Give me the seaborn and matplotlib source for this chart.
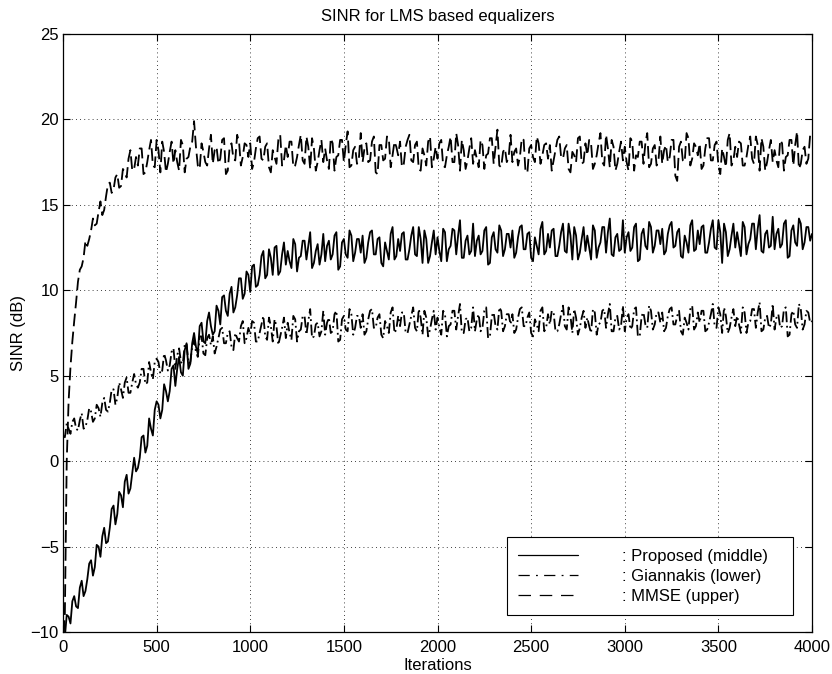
import numpy as np
import pandas as pd
import matplotlib
matplotlib.use("Agg")
import matplotlib.pyplot as plt
from matplotlib.lines import Line2D
import seaborn as sns

# ---------------- data ----------------
# samples every 20 iterations ...
iters = list(range(0, 4001, 20))
# ... and the samples in between (every 20 iterations, offset by 10)
iters_mid = list(range(10, 4000, 20))

proposed = [
    -10.0, -9.0, -9.5, -7.9, -8.6, -7.0, -7.6, -6.0, -6.7, -4.9,
    -5.6, -3.9, -4.7, -2.8, -3.7, -1.8, -2.7, -0.8, -1.6, 0.2,
    -0.4, 1.4, 0.5, 2.5, 1.5, 3.5, 2.5, 4.5, 3.5, 5.4,
    4.4, 6.1, 5.0, 6.9, 5.7, 7.5, 6.3, 8.1, 6.9, 8.7,
    7.4, 9.1, 8.0, 9.7, 8.5, 10.2, 9.0, 10.7, 9.5, 11.1,
    9.9, 11.5, 10.3, 12.0, 10.7, 12.4, 10.9, 12.6, 11.1, 12.8,
    12.3, 11.3, 12.7, 11.9, 12.9, 11.8, 13.4, 11.6, 12.7, 12.1,
    11.7, 12.9, 12.1, 13.4, 11.4, 13.0, 11.9, 13.2, 12.2, 13.0,
    13.2, 11.9, 13.4, 12.1, 13.0, 11.6, 12.8, 11.8, 13.7, 12.0,
    12.3, 13.4, 11.8, 13.2, 12.1, 13.7, 11.6, 13.0, 12.0, 13.5,
    13.1, 11.7, 13.4, 12.4, 13.6, 12.1, 14.1, 11.9, 13.2, 12.3,
    12.0, 13.2, 12.3, 13.7, 11.6, 13.4, 12.2, 13.5, 12.4, 13.3,
    13.5, 12.2, 13.7, 12.4, 13.3, 11.9, 13.1, 12.1, 14.0, 12.3,
    12.5, 13.6, 12.0, 13.4, 12.3, 13.9, 11.8, 13.2, 12.2, 13.7,
    13.2, 11.8, 13.5, 12.5, 13.7, 12.2, 14.2, 12.0, 13.3, 12.4,
    12.2, 13.4, 12.5, 13.9, 11.8, 13.6, 12.4, 13.7, 12.6, 13.5,
    13.6, 12.3, 13.8, 12.5, 13.4, 12.0, 13.2, 12.2, 14.1, 12.4,
    12.7, 13.8, 12.2, 13.6, 12.5, 14.1, 11.6, 13.4, 12.4, 13.9,
    13.4, 12.0, 13.7, 12.7, 13.9, 12.4, 14.4, 12.2, 13.5, 12.6,
    12.4, 13.6, 12.7, 14.1, 12.0, 13.8, 12.6, 13.9, 12.8, 13.7,
    13.3,
]
proposed_mid = [
    -10.3, -9.1, -8.2, -8.5, -7.4, -7.9, -6.9, -5.8, -6.2, -5.0,
    -4.4, -4.8, -3.9, -2.6, -3.1, -2.0, -1.2, -1.9, -0.7, -0.6,
    0.2, 1.5, 0.9, 1.9, 3.0, 3.3, 3.0, 4.1, 4.1, 5.6,
    5.4, 5.2, 6.5, 5.4, 6.9, 6.7, 7.9, 7.0, 8.2, 7.9,
    7.6, 8.8, 9.6, 8.8, 9.8, 8.7, 9.7, 10.7, 9.8, 10.9,
    11.4, 10.2, 10.9, 12.3, 10.9, 11.9, 12.5, 10.9, 12.1, 11.5,
    11.7, 13.0, 11.1, 12.0, 12.9, 12.6, 11.3, 12.3, 11.5, 13.3,
    12.6, 11.8, 13.2, 11.2, 12.8, 12.1, 13.5, 11.7, 13.0, 12.2,
    11.6, 12.8, 13.5, 12.1, 13.1, 11.4, 12.3, 13.3, 11.8, 13.0,
    13.3, 11.8, 12.4, 13.7, 12.0, 13.0, 13.5, 11.6, 12.8, 12.1,
    12.3, 13.6, 11.7, 12.6, 13.5, 13.2, 11.9, 12.9, 12.1, 13.9,
    12.9, 12.1, 13.5, 11.5, 13.1, 12.4, 13.8, 12.0, 13.3, 12.5,
    11.9, 13.1, 13.8, 12.4, 13.4, 11.7, 12.6, 13.6, 12.1, 13.3,
    13.5, 12.0, 12.6, 13.9, 12.2, 13.2, 13.7, 11.8, 13.0, 12.3,
    12.5, 13.8, 11.9, 12.8, 13.7, 13.4, 12.1, 13.1, 12.3, 14.1,
    13.1, 12.3, 13.7, 11.7, 13.3, 12.6, 14.0, 12.2, 13.5, 12.7,
    12.1, 13.3, 14.0, 12.6, 13.6, 11.9, 12.8, 13.8, 12.3, 13.5,
    13.7, 12.2, 12.8, 14.1, 12.4, 13.4, 13.9, 12.0, 13.2, 12.5,
    12.7, 14.0, 12.1, 13.0, 13.9, 13.6, 12.3, 13.3, 12.5, 14.3,
    13.3, 12.5, 13.9, 11.9, 13.5, 12.8, 14.2, 12.4, 13.7, 12.9,
]

giannakis = [
    1.5, 2.2, 1.6, 2.5, 1.8, 2.8, 2.0, 3.1, 2.3, 3.3,
    2.6, 3.7, 2.9, 4.2, 3.3, 4.6, 3.7, 4.9, 4.0, 5.1,
    4.3, 5.4, 4.5, 5.8, 4.8, 6.0, 5.1, 6.3, 5.3, 6.4,
    5.4, 6.6, 5.7, 6.9, 5.8, 7.1, 6.1, 7.3, 6.2, 7.4,
    7.3, 6.7, 7.7, 6.9, 7.5, 6.7, 7.5, 7.0, 8.2, 7.2,
    7.4, 8.1, 7.0, 8.0, 7.3, 8.4, 7.0, 7.9, 7.3, 8.4,
    8.1, 7.1, 8.3, 7.6, 8.5, 7.4, 8.9, 7.3, 8.1, 7.6,
    7.4, 8.4, 7.6, 8.8, 7.1, 8.5, 7.6, 8.6, 7.8, 8.5,
    8.6, 7.6, 8.8, 7.8, 8.4, 7.4, 8.2, 7.5, 9.0, 7.7,
    7.9, 8.7, 7.5, 8.5, 7.8, 8.9, 7.4, 8.4, 7.7, 8.8,
    8.4, 7.4, 8.6, 7.9, 8.8, 7.7, 9.2, 7.5, 8.4, 7.8,
    7.6, 8.6, 7.8, 9.0, 7.3, 8.7, 7.7, 8.8, 7.9, 8.6,
    8.6, 7.7, 8.9, 7.9, 8.4, 7.5, 8.3, 7.6, 9.0, 7.8,
    8.0, 8.7, 7.6, 8.6, 7.9, 9.0, 7.5, 8.4, 7.8, 8.8,
    8.4, 7.5, 8.7, 8.0, 8.8, 7.8, 9.2, 7.6, 8.5, 7.9,
    7.6, 8.6, 7.9, 9.0, 7.3, 8.7, 7.8, 8.8, 8.0, 8.7,
    8.7, 7.8, 8.9, 8.0, 8.5, 7.6, 8.4, 7.7, 9.1, 7.9,
    8.1, 8.8, 7.7, 8.6, 7.9, 9.0, 7.5, 8.5, 7.8, 8.9,
    8.5, 7.5, 8.7, 8.1, 8.9, 7.8, 9.3, 7.7, 8.5, 8.0,
    7.7, 8.6, 7.9, 9.0, 7.4, 8.8, 7.8, 8.9, 8.0, 8.7,
    8.2,
]
giannakis_mid = [
    1.4, 1.9, 2.3, 1.9, 2.4, 1.9, 2.4, 2.9, 2.5, 3.1,
    3.4, 3.0, 3.4, 4.2, 3.7, 4.2, 4.6, 4.0, 4.6, 4.5,
    4.6, 5.4, 4.6, 5.2, 5.8, 5.8, 5.3, 5.9, 5.6, 6.6,
    6.2, 5.8, 6.8, 5.7, 6.7, 6.4, 7.3, 6.3, 7.2, 6.8,
    6.3, 7.2, 7.8, 6.9, 7.6, 6.5, 7.2, 7.9, 6.9, 7.8,
    8.2, 7.0, 7.5, 8.5, 7.1, 7.9, 8.3, 6.8, 7.8, 7.2,
    7.5, 8.5, 7.0, 7.7, 8.5, 8.2, 7.2, 8.0, 7.3, 8.8,
    8.1, 7.5, 8.6, 7.0, 8.3, 7.7, 8.9, 7.4, 8.5, 7.8,
    7.4, 8.3, 8.9, 7.8, 8.6, 7.2, 7.9, 8.7, 7.5, 8.5,
    8.7, 7.5, 8.0, 9.0, 7.6, 8.4, 8.8, 7.3, 8.3, 7.7,
    7.8, 8.8, 7.3, 8.0, 8.8, 8.5, 7.5, 8.3, 7.6, 9.0,
    8.3, 7.6, 8.8, 7.2, 8.5, 7.9, 9.0, 7.6, 8.6, 8.0,
    7.5, 8.4, 9.0, 7.9, 8.7, 7.3, 8.0, 8.8, 7.6, 8.6,
    8.8, 7.6, 8.0, 9.1, 7.7, 8.5, 8.9, 7.4, 8.4, 7.8,
    7.9, 8.9, 7.4, 8.1, 8.9, 8.6, 7.6, 8.4, 7.7, 9.1,
    8.4, 7.7, 8.9, 7.3, 8.5, 8.0, 9.1, 7.7, 8.7, 8.1,
    7.6, 8.5, 9.0, 8.0, 8.8, 7.4, 8.1, 8.9, 7.7, 8.7,
    8.8, 7.6, 8.1, 9.2, 7.8, 8.6, 9.0, 7.5, 8.4, 7.9,
    8.0, 9.0, 7.5, 8.2, 8.9, 8.7, 7.6, 8.4, 7.8, 9.2,
    8.4, 7.8, 8.9, 7.3, 8.6, 8.0, 9.2, 7.7, 8.8, 8.1,
]

mmse = [
    -10.0, 0.0, 5.5, 8.2, 10.5, 11.4, 12.9, 13.0, 14.2, 13.9,
    15.2, 14.7, 16.2, 15.7, 16.6, 16.0, 17.1, 16.6, 18.2, 17.1,
    17.3, 18.3, 16.9, 18.2, 17.3, 18.8, 16.9, 18.1, 17.4, 18.7,
    18.2, 17.0, 18.5, 17.7, 18.4, 19.9, 17.3, 18.6, 17.5, 18.3,
    17.4, 18.4, 17.7, 18.9, 17.0, 18.6, 17.6, 18.7, 17.8, 18.5,
    18.6, 17.5, 18.9, 17.7, 18.4, 17.2, 18.2, 17.4, 19.1, 17.6,
    17.8, 18.7, 17.3, 18.5, 17.6, 19.0, 17.1, 18.3, 17.5, 18.8,
    18.3, 17.1, 18.6, 17.8, 18.8, 17.5, 19.3, 17.3, 18.4, 17.7,
    17.5, 18.6, 17.6, 19.0, 16.8, 18.5, 17.7, 18.9, 17.9, 18.4,
    18.7, 17.4, 18.8, 17.6, 18.5, 17.1, 18.3, 17.3, 19.0, 17.7,
    17.7, 18.8, 17.2, 18.4, 17.5, 19.2, 17.0, 18.2, 17.6, 18.9,
    18.2, 17.2, 18.5, 17.9, 18.9, 17.4, 19.4, 17.2, 18.3, 17.8,
    17.5, 18.3, 17.8, 18.8, 16.9, 18.5, 17.5, 18.6, 17.9, 18.6,
    18.5, 17.6, 18.8, 17.8, 18.3, 17.1, 18.1, 17.5, 19.0, 17.5,
    17.9, 18.6, 17.4, 18.6, 17.5, 19.1, 17.2, 18.4, 17.4, 18.7,
    18.4, 17.0, 18.7, 17.9, 18.7, 17.4, 19.2, 17.4, 18.5, 17.6,
    17.4, 18.5, 17.8, 18.8, 16.4, 18.7, 17.5, 18.9, 17.7, 18.4,
    18.6, 17.3, 18.9, 17.6, 18.5, 17.3, 18.3, 17.2, 19.2, 17.6,
    17.8, 18.6, 17.3, 18.5, 17.7, 19.0, 17.0, 18.4, 17.5, 18.8,
    18.2, 17.2, 18.6, 17.8, 18.8, 17.3, 19.3, 17.4, 18.4, 17.7,
    18.9,
]
mmse_mid = [
    -9.0, 3.5, 7.0, 9.3, 11.2, 11.9, 12.6, 13.5, 13.8, 14.6,
    14.4, 15.5, 16.3, 15.9, 16.8, 16.1, 16.9, 17.7, 17.0, 17.8,
    18.3, 16.8, 17.5, 18.8, 17.2, 18.2, 18.7, 16.9, 18.1, 17.4,
    17.5, 18.8, 16.9, 17.8, 18.7, 18.4, 17.1, 18.1, 17.3, 19.1,
    18.2, 17.4, 18.8, 16.8, 18.4, 17.7, 19.1, 17.3, 18.6, 17.8,
    17.1, 18.3, 19.0, 17.6, 18.6, 16.9, 17.8, 18.8, 17.3, 18.5,
    18.7, 17.2, 17.8, 19.1, 17.4, 18.4, 18.9, 17.0, 18.2, 17.5,
    17.6, 18.9, 17.0, 17.9, 18.8, 18.5, 17.2, 18.2, 17.4, 19.2,
    18.3, 17.5, 18.7, 16.9, 18.5, 17.6, 19.0, 17.2, 18.7, 17.9,
    17.2, 18.4, 19.1, 17.5, 18.7, 17.0, 17.9, 18.7, 17.2, 18.4,
    18.6, 17.3, 17.9, 19.0, 17.5, 18.5, 18.8, 17.1, 18.3, 17.4,
    17.7, 18.8, 17.1, 18.0, 18.9, 18.4, 17.3, 18.1, 17.5, 19.1,
    18.1, 17.3, 18.9, 16.9, 18.3, 17.8, 19.0, 17.4, 18.5, 17.7,
    17.0, 18.2, 19.0, 17.7, 18.5, 16.9, 17.9, 18.9, 17.4, 18.6,
    18.8, 17.1, 17.9, 19.2, 17.3, 18.3, 18.8, 17.0, 18.1, 17.6,
    17.5, 18.9, 17.0, 17.8, 18.7, 18.6, 17.2, 18.3, 17.3, 19.0,
    18.2, 17.5, 18.8, 16.7, 18.4, 17.6, 19.2, 17.3, 18.6, 17.9,
    17.1, 18.3, 18.9, 17.6, 18.7, 16.8, 17.8, 18.8, 17.3, 18.4,
    18.7, 17.3, 17.8, 19.0, 17.4, 18.5, 18.9, 17.0, 18.2, 17.5,
    17.6, 18.8, 17.0, 17.9, 18.8, 18.5, 17.1, 18.2, 17.4, 19.1,
]
# fast initial rise of the MMSE curve (finer iteration spacing)
mmse_early_iters = [0, 5, 10, 15, 20, 30, 40, 50, 60, 70]
mmse_early = [-10.0, -10.0, -9.0, -4.5, 0.0, 3.5, 5.5, 7.0, 8.2, 9.3]

x_ticks = [0, 500, 1000, 1500, 2000, 2500, 3000, 3500, 4000]
y_ticks = [-10, -5, 0, 5, 10, 15, 20, 25]
labels = [": Proposed (middle)   ", ": Giannakis (lower)   ", ": MMSE (upper)   "]

for arr in (proposed, giannakis, mmse):
    assert len(arr) == len(iters), len(arr)
for arr in (proposed_mid, giannakis_mid, mmse_mid):
    assert len(arr) == len(iters_mid), len(arr)


def series(it_a, v_a, it_b, v_b):
    d = pd.DataFrame({"it": list(it_a) + list(it_b), "v": list(v_a) + list(v_b)})
    return d.sort_values("it", kind="stable").reset_index(drop=True)


df_p = series(iters, proposed, iters_mid, proposed_mid)
df_g = series(iters, giannakis, iters_mid, giannakis_mid)
df_m = series(iters, mmse, iters_mid, mmse_mid)
df_m = df_m[df_m["it"] >= 80]
df_m = pd.concat([pd.DataFrame({"it": mmse_early_iters, "v": mmse_early}), df_m],
                 ignore_index=True)

# ---------------- figure ----------------
sns.set_style("ticks")
plt.rcParams["font.family"] = ["Liberation Sans", "DejaVu Sans"]
plt.rcParams["text.color"] = "black"
plt.rcParams["axes.labelcolor"] = "black"
FS = 12

fig = plt.figure(figsize=(8.32, 6.74), dpi=100)
ax = fig.add_axes([0.0757, 0.0623, 0.9003, 0.8873])

lw = 1.3
ls_dashdot = (0, (6, 2, 1, 2))
ls_dash = (0, (7, 3))
sns.lineplot(data=df_m, x="it", y="v", ax=ax, color="black", lw=lw,
             linestyle=ls_dash, estimator=None, sort=False)
sns.lineplot(data=df_g, x="it", y="v", ax=ax, color="black", lw=lw,
             linestyle=ls_dashdot, estimator=None, sort=False)
sns.lineplot(data=df_p, x="it", y="v", ax=ax, color="black", lw=lw,
             linestyle="-", estimator=None, sort=False)

ax.set_xlim(0, 4000)
ax.set_ylim(-10, 25)
ax.set_xticks(x_ticks)
ax.set_yticks(y_ticks)
ax.set_xlabel("Iterations", fontsize=FS, labelpad=2, color="black")
ax.set_ylabel("SINR (dB)", fontsize=FS, labelpad=3, color="black")
ax.set_title("SINR for LMS based equalizers", fontsize=FS, pad=9, color="black")

ax.grid(True, color="black", linestyle=(0, (1, 4)), linewidth=0.6)
ax.tick_params(direction="in", top=True, right=True, length=5, width=0.8,
               labelsize=FS, colors="black", pad=3)
ax.tick_params(axis="x", pad=6)
for s in ax.spines.values():
    s.set_visible(True)
    s.set_color("black")
    s.set_linewidth(0.9)

handles = [
    Line2D([0], [0], color="black", lw=0.9, linestyle="-"),
    Line2D([0], [0], color="black", lw=0.9, linestyle=(0, (9, 5, 1.5, 5))),
    Line2D([0], [0], color="black", lw=0.9, linestyle=(0, (10, 7))),
]
leg = ax.legend(handles, labels, loc="lower right",
                bbox_to_anchor=(0.975, 0.028), fontsize=FS,
                handlelength=3.6, handletextpad=2.6, labelspacing=0.3,
                borderpad=0.7, borderaxespad=0.0, frameon=True,
                fancybox=False, framealpha=1.0, edgecolor="black")
leg.get_frame().set_linewidth(0.8)

fig.savefig("out.png", dpi=100, facecolor="white")
